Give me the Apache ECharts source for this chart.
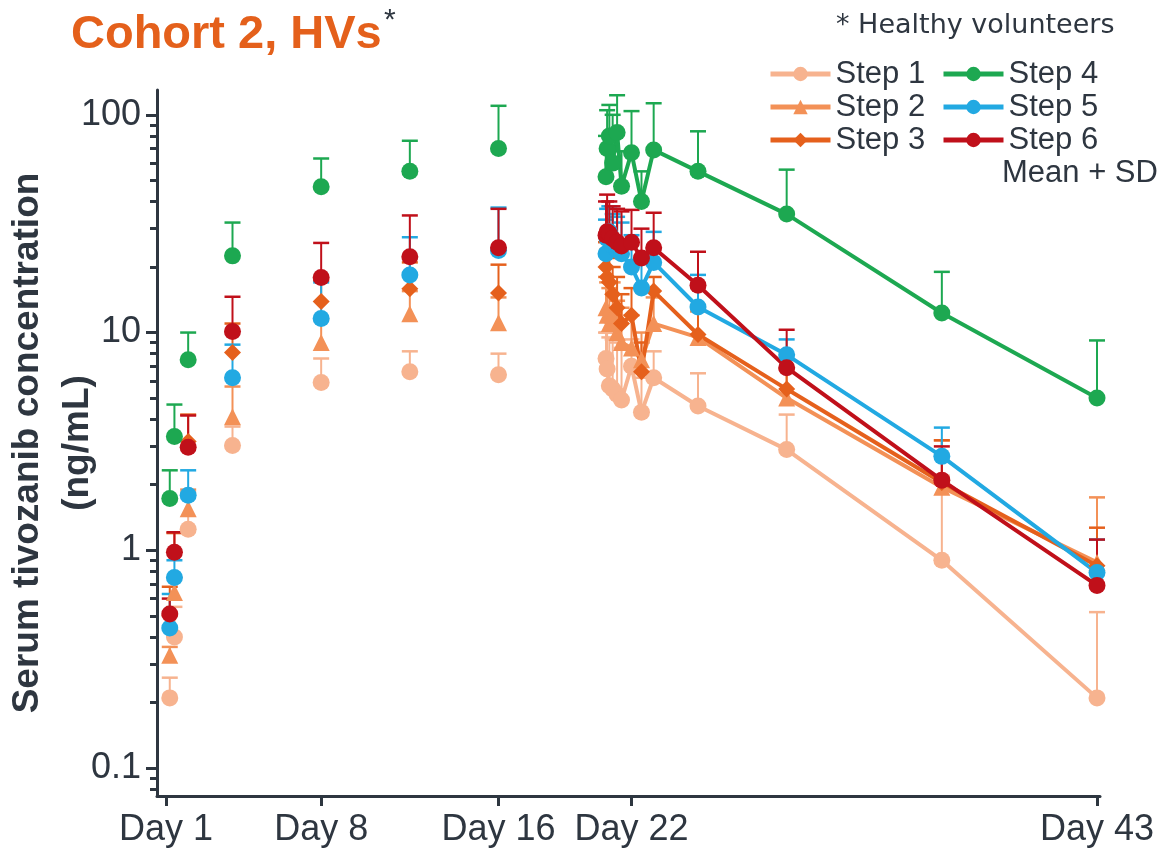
<!DOCTYPE html>
<html>
<head>
<meta charset="utf-8">
<script src="https://cdn.jsdelivr.net/npm/echarts@6/dist/echarts.min.js"></script>
<style>
html,body{margin:0;padding:0;background:#fff;}
#chart{width:1165px;height:853px;}
</style>
</head>
<body>
<div id="chart"></div>
<script>
// ---- axes ----
const xTickDays = [1, 8, 16, 22, 43];
const yTickValues = [0.1, 1, 10, 100];
const yMinorTicks = [0.08, 0.09, 0.2, 0.3, 0.4, 0.5, 0.6, 0.7, 0.8, 0.9, 2, 3, 4, 5, 6, 7, 8, 9, 20, 30, 40, 50, 60, 70, 80, 90];

// ---- sampling times (study day) ----
const earlyDays = [1.17, 1.38, 2, 4, 8, 12, 16];
const lateDays = [20.85, 20.9, 21.0, 21.15, 21.35, 21.55, 22.0, 22.45, 23.0, 25.0, 29.0, 36.0, 43.0];

// ---- mean and mean+SD (ng/mL) ----
const s1Early = [0.21, 0.40, 1.25, 3.03, 5.9, 6.6, 6.4];
const s1EarlySD = [0.26, 0.55, 1.85, 3.7, 7.6, 8.2, 8.0];
const s1Late = [7.6, 6.8, 5.7, 5.5, 5.2, 4.9, 7.0, 4.3, 6.2, 4.6, 2.9, 0.9, 0.21];
const s1LateSD = [10, 10, 9.5, 9.3, 9.0, 8.5, 9.3, 6.2, 8.2, 6.5, 4.2, 2.2, 0.52];

const s2Early = [0.33, 0.64, 1.55, 4.1, 9.0, 12.2, 11.1];
const s2EarlySD = [0.36, 0.75, 1.9, 5.65, 11.5, 15.5, 14.5];
const s2Late = [13, 12, 11, 12, 10, 9, 8.5, 7.5, 11, 9.5, 5.0, 1.95, 0.88];
const s2LateSD = [18, 17, 16, 17, 14, 13, 12, 10, 14.5, 12.5, 6.8, 3.2, 1.75];

const s3Early = [0.5, 0.98, 3.16, 8.1, 13.9, 15.9, 15.2];
const s3EarlySD = [0.68, 1.2, 4.2, 11, 17.3, 21, 20.5];
const s3Late = [20, 18, 17, 15, 13, 11, 12, 6.6, 15.5, 9.8, 5.5, 2.05, 0.85];
const s3LateSD = [26, 24, 22, 20, 18, 15, 16, 9, 18, 13, 7.5, 3.2, 1.27];

const s4Early = [1.73, 3.33, 7.5, 22.5, 46.7, 55, 70];
const s4EarlySD = [2.33, 4.67, 10, 32, 63, 76, 110];
const s4Late = [52, 70, 80, 60, 83, 47, 67, 40, 69, 55, 35, 12.3, 5];
const s4LateSD = [80, 105, 111, 100, 123, 68, 104, 55, 113, 84, 56, 19, 9.2];

const s5Early = [0.44, 0.75, 1.79, 6.2, 11.6, 18.4, 23.8];
const s5EarlySD = [0.63, 0.9, 2.33, 8.8, 17, 27.4, 37.5];
const s5Late = [23, 27, 29, 25, 24, 23, 20, 16, 21, 13.1, 7.9, 2.7, 0.79];
const s5LateSD = [33, 37, 38, 35, 34, 32, 28, 22, 29, 18.4, 9.3, 3.66, 1.12];

const s6Early = [0.51, 0.98, 2.97, 10.1, 17.9, 22.3, 24.5];
const s6EarlySD = [0.6, 1.21, 4.16, 14.6, 25.8, 34.5, 37];
const s6Late = [28, 29, 28.5, 27, 26, 25, 26, 22, 24.5, 16.5, 6.9, 2.1, 0.69];
const s6LateSD = [40, 43, 40, 38, 37, 36, 36.6, 30, 35.5, 23.5, 10.3, 3.0, 1.12];

const stepNames = ['Step 1', 'Step 2', 'Step 3', 'Step 4', 'Step 5', 'Step 6'];
const stepColors = ['#F7B38F', '#F39157', '#E5601C', '#1DA851', '#22A9E2', '#C0101A'];
const stepSymbols = ['circle', 'triangle', 'diamond', 'circle', 'circle', 'circle'];
const earlyMeans = [s1Early, s2Early, s3Early, s4Early, s5Early, s6Early];
const earlySDs = [s1EarlySD, s2EarlySD, s3EarlySD, s4EarlySD, s5EarlySD, s6EarlySD];
const lateMeans = [s1Late, s2Late, s3Late, s4Late, s5Late, s6Late];
const lateSDs = [s1LateSD, s2LateSD, s3LateSD, s4LateSD, s5LateSD, s6LateSD];

const textColor = '#2E3640';
const FONT = '"Liberation Sans", Arial, sans-serif';

function renderErr(params, api) {
  const x = api.value(0), m = api.value(1), t = api.value(2);
  const p1 = api.coord([x, m]);
  const p2 = api.coord([x, t]);
  const c = api.visual('color');
  return {
    type: 'group',
    children: [
      { type: 'line', shape: { x1: p1[0], y1: p1[1], x2: p2[0], y2: p2[1] }, style: { stroke: c, lineWidth: 2 } },
      { type: 'line', shape: { x1: p2[0] - 8, y1: p2[1], x2: p2[0] + 8, y2: p2[1] }, style: { stroke: c, lineWidth: 2.5 } }
    ]
  };
}

const series = [];
stepNames.forEach((nm, i) => {
  const data = [];
  earlyDays.forEach((d, k) => data.push([d, earlyMeans[i][k], earlySDs[i][k]]));
  lateDays.forEach((d, k) => data.push([d, lateMeans[i][k], lateSDs[i][k]]));
  series.push({
    name: nm + ' SD', type: 'custom', renderItem: renderErr, data: data,
    encode: { x: 0, y: [1, 2] }, itemStyle: { color: stepColors[i] }, z: 2, silent: true
  });
});
stepNames.forEach((nm, i) => {
  series.push({
    name: nm, type: 'line', data: lateDays.map((d, k) => [d, lateMeans[i][k]]),
    symbol: stepSymbols[i], symbolSize: 17,
    itemStyle: { color: stepColors[i] }, lineStyle: { color: stepColors[i], width: 4 }, z: 3
  });
});
stepNames.forEach((nm, i) => {
  series.push({
    name: nm, type: 'scatter', data: earlyDays.map((d, k) => [d, earlyMeans[i][k]]),
    symbol: stepSymbols[i], symbolSize: 17,
    itemStyle: { color: stepColors[i], opacity: 1 }, z: 3
  });
});

const yMin = 0.0744, yMax = 130;

const legendCommon = {
  orient: 'vertical', top: 53, itemWidth: 60, itemHeight: 18, itemGap: 1,
  lineStyle: { width: 5 },
  textStyle: { fontSize: 31, color: textColor, lineHeight: 32, fontFamily: FONT }
};

const option = {
  animation: false,
  backgroundColor: '#fff',
  textStyle: { fontFamily: FONT },
  title: {
    text: 'Cohort 2, HVs', left: 66, top: 7,
    textStyle: { fontSize: 47, fontWeight: 'bold', color: '#E4601B', fontFamily: FONT }
  },
  graphic: [
    { type: 'text', left: 384, top: 6, style: { text: '*', fill: textColor, font: '30px ' + FONT } },
    { type: 'text', left: 836, top: 12, style: { text: '* Healthy volunteers', fill: textColor, font: '27px "DejaVu Sans", sans-serif' } },
    { type: 'text', left: 1002, top: 158, style: { text: 'Mean + SD', fill: textColor, font: '31px ' + FONT } }
  ],
  legend: [
    Object.assign({ data: ['Step 1', 'Step 2', 'Step 3'], left: 763 }, legendCommon),
    Object.assign({ data: ['Step 4', 'Step 5', 'Step 6'], left: 936 }, legendCommon)
  ],
  grid: { left: 157, top: 90, width: 943, height: 706, containLabel: false, outerBoundsMode: 'none' },
  xAxis: {
    type: 'value', min: 0.594, max: 43.135,
    axisLine: { show: true, lineStyle: { color: textColor, width: 3 } },
    axisTick: { show: true, customValues: xTickDays, length: 10, lineStyle: { color: textColor, width: 3 } },
    axisLabel: { customValues: xTickDays, formatter: v => 'Day ' + Math.round(v), fontSize: 36, color: textColor, margin: 16, fontFamily: FONT },
    splitLine: { show: false }
  },
  yAxis: [
    {
      type: 'log', min: yMin, max: yMax, position: 'left',
      name: 'Serum tivozanib concentration\n(ng/mL)', nameLocation: 'middle', nameRotate: 90, nameGap: 54,
      nameMoveOverlap: false,
      nameTextStyle: { fontSize: 37, fontWeight: 'bold', color: textColor, lineHeight: 50, fontFamily: FONT },
      axisLine: { show: true, lineStyle: { color: textColor, width: 3 } },
      axisTick: { show: true, customValues: yTickValues, length: 11, lineStyle: { color: textColor, width: 3 } },
      axisLabel: {
        customValues: yTickValues, fontSize: 36, color: textColor, margin: 16, fontFamily: FONT,
        formatter: v => (v < 0.5 ? '0.1' : String(Math.round(v)))
      },
      splitLine: { show: false }
    },
    {
      type: 'log', min: yMin, max: yMax, position: 'left', offset: 0,
      axisLine: { show: false },
      axisTick: { show: true, customValues: yMinorTicks, length: 7, lineStyle: { color: textColor, width: 3 } },
      axisLabel: { show: false },
      splitLine: { show: false }
    }
  ],
  series: series
};

const chart = echarts.init(document.getElementById('chart'), null, { renderer: 'canvas' });
chart.setOption(option);
</script>
</body>
</html>
